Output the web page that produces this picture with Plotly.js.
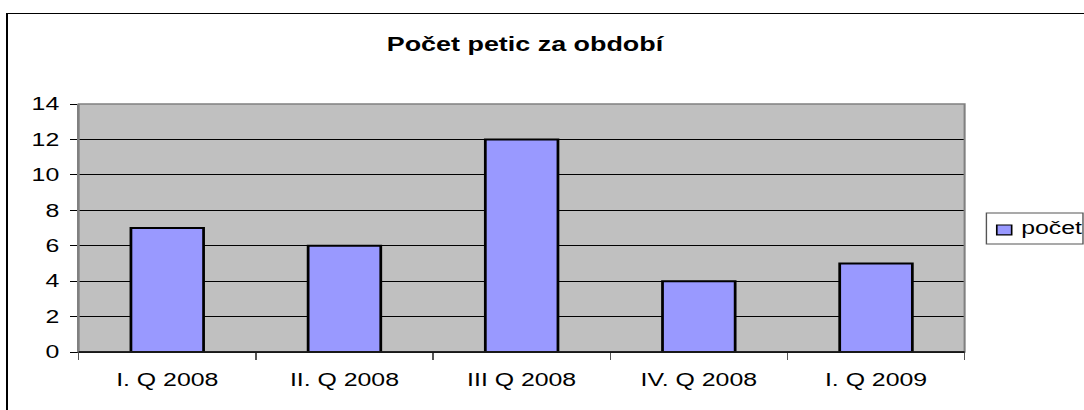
<!DOCTYPE html>
<html><head><meta charset="utf-8">
<script src="https://cdn.plot.ly/plotly-3.0.1.min.js"></script>
<style>
html,body{margin:0;padding:0;background:#fff;overflow:hidden}
#wrap{position:relative;width:1084px;height:410px;overflow:hidden}
#frame{position:absolute;left:6px;top:13px;width:1100px;height:420px;border-top:1px solid #000;border-left:2px solid #000;pointer-events:none}
#chart{position:absolute;left:0;top:0;width:786px;height:410px;transform:scaleX(1.38);transform-origin:0 0}
</style></head>
<body><div id="wrap"><div id="chart"></div><div id="frame"></div></div>
<script>
const categories = ["I. Q 2008", "II. Q 2008", "III Q 2008", "IV. Q 2008", "I. Q 2009"];
const pocet = [7, 6, 12, 4, 5];
const yTicks = [0, 2, 4, 6, 8, 10, 12, 14];
const seriesName = "počet";

const font = "Liberation Sans, Arial, sans-serif";
Plotly.newPlot('chart', [{
  type: 'bar', x: categories, y: pocet, name: seriesName,
  marker: {color: '#9999FF', line: {color: '#000', width: 2}}
}], {
  width: 786, height: 410,
  margin: {l: 57, r: 87, t: 104, b: 58, pad: 0},
  paper_bgcolor: '#fff', plot_bgcolor: '#C0C0C0',
  bargap: 0.59,
  title: {text: '<b>Počet petic za období</b>', font: {family: font, size: 19.5, color: '#000'}, x: 0.484, xanchor: 'center', y: 0.893, yanchor: 'middle'},
  xaxis: {type: 'category', showgrid: false, showline: true, linecolor: '#000', linewidth: 1,
    ticks: 'outside', tickson: 'boundaries', ticklen: 7, tickcolor: '#555', tickwidth: 1,
    ticklabelstandoff: 11,
    tickfont: {family: font, size: 18, color: '#000'}, fixedrange: true},
  yaxis: {range: [0, 14], tickvals: yTicks, showgrid: true, gridcolor: '#000', gridwidth: 1,
    zeroline: false, showline: true, linecolor: '#808080', linewidth: 1.5,
    ticks: 'outside', ticklen: 5, tickcolor: '#000', tickwidth: 1, ticklabelstandoff: 4,
    tickfont: {family: font, size: 18, color: '#000'}, fixedrange: true},
  shapes: [
    {type: 'rect', xref: 'paper', yref: 'paper', x0: 0, x1: 1, y0: 0, y1: 1,
      line: {color: '#808080', width: 1.5}, layer: 'above'},
    {type: 'line', xref: 'paper', yref: 'paper', x0: 0, x1: 1, y0: 0, y1: 0,
      line: {color: '#000', width: 1.5}, layer: 'above'},
    {type: 'rect', xref: 'paper', yref: 'paper', x0: 1.0246, x1: 1.1336, y0: 0.435, y1: 0.560,
      fillcolor: '#fff', line: {color: '#555', width: 1}},
    {type: 'rect', xref: 'paper', yref: 'paper', x0: 1.0363, x1: 1.0531, y0: 0.472, y1: 0.512,
      fillcolor: '#9999FF', line: {color: '#000', width: 1.2}}
  ],
  annotations: [{xref: 'paper', yref: 'paper', x: 1.061, y: 0.498, xanchor: 'left', yanchor: 'middle',
    text: seriesName, showarrow: false, font: {family: font, size: 18, color: '#000'}}],
  showlegend: false
}, {displayModeBar: false, staticPlot: true});
</script></body></html>
